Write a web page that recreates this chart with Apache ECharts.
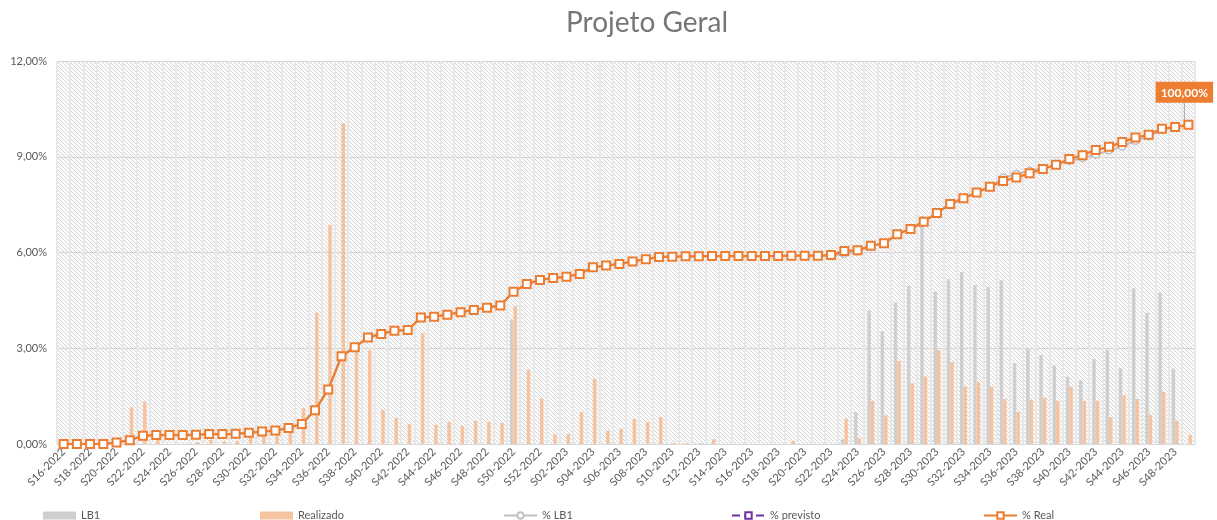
<!DOCTYPE html>
<html lang="pt">
<head>
  <meta charset="UTF-8">
  <title>Projeto Geral</title>
  <script src="https://cdn.jsdelivr.net/npm/echarts@6/dist/echarts.min.js"></script>
  <style>
    html, body { margin: 0; padding: 0; background: #fff; }
    #grafico { width: 1217px; height: 520px; }
  </style>
</head>
<body>
<div id="grafico"></div>
<script>
  // semanas (eixo x)
  var semanas = [
    'S16-2022','S17-2022','S18-2022','S19-2022','S20-2022','S21-2022','S22-2022','S23-2022','S24-2022','S25-2022',
    'S26-2022','S27-2022','S28-2022','S29-2022','S30-2022','S31-2022','S32-2022','S33-2022','S34-2022','S35-2022',
    'S36-2022','S37-2022','S38-2022','S39-2022','S40-2022','S41-2022','S42-2022','S43-2022','S44-2022','S45-2022',
    'S46-2022','S47-2022','S48-2022','S49-2022','S50-2022','S51-2022','S52-2022','S01-2023','S02-2023','S03-2023',
    'S04-2023','S05-2023','S06-2023','S07-2023','S08-2023','S09-2023','S10-2023','S11-2023','S12-2023','S13-2023',
    'S14-2023','S15-2023','S16-2023','S17-2023','S18-2023','S19-2023','S20-2023','S21-2023','S22-2023','S23-2023',
    'S24-2023','S25-2023','S26-2023','S27-2023','S28-2023','S29-2023','S30-2023','S31-2023','S32-2023','S33-2023',
    'S34-2023','S35-2023','S36-2023','S37-2023','S38-2023','S39-2023','S40-2023','S41-2023','S42-2023','S43-2023',
    'S44-2023','S45-2023','S46-2023','S47-2023','S48-2023','S49-2023'
  ];

  // % semanal (eixo principal)
  var lb1 = [
    0, 0, 0, 0, 0, 0, 0, 0, 0, 0,
    0, 0, 0, 0, 0, 0, 0, 0, 0, 0,
    0, 0, 0, 0, 0, 0, 0, 0, 0, 0,
    0, 0, 0, 0, 3.9, 0, 0, 0, 0, 0,
    0, 0, 0, 0, 0, 0, 0, 0, 0, 0,
    0, 0, 0, 0, 0, 0, 0, 0, 0, 0.14,
    1.0, 4.18, 3.53, 4.43, 4.95, 7.15, 4.77, 5.16, 5.4, 4.98,
    4.92, 5.13, 2.53, 2.97, 2.79, 2.46, 2.11, 2.0, 2.66, 2.95,
    2.39, 4.88, 4.11, 4.74, 2.36, 0
  ];
  var realizado = [
    0, 0, 0, 0, 0.2, 1.15, 1.32, 0.25, 0, 0,
    0.05, 0.13, 0.08, 0.1, 0.28, 0.4, 0.35, 0.6, 1.12, 4.12,
    6.86, 10.05, 3.0, 2.94, 1.07, 0.82, 0.63, 3.47, 0.6, 0.69,
    0.56, 0.72, 0.69, 0.66, 4.32, 2.32, 1.42, 0.31, 0.31, 1.0,
    2.04, 0.42, 0.48, 0.79, 0.69, 0.84, 0.03, 0.03, 0.03, 0.15,
    0, 0, 0, 0, 0, 0.1, 0, 0, 0, 0.8,
    0.18, 1.35, 0.9, 2.6, 1.9, 2.11, 2.94, 2.57, 1.8, 1.93,
    1.8, 1.41, 1.0, 1.38, 1.45, 1.35, 1.8, 1.35, 1.35, 0.84,
    1.53, 1.41, 0.91, 1.63, 0.73, 0.28
  ];

  // % acumulado (eixo secundário, oculto)
  var pctReal = [
    0, 0, 0, 0, 0.5, 1.2, 2.6, 2.8, 2.8, 2.8,
    2.9, 3.1, 3.1, 3.2, 3.5, 3.9, 4.2, 5.0, 6.3, 10.6,
    17.1, 27.5, 30.3, 33.4, 34.5, 35.5, 35.7, 39.6, 39.9, 40.5,
    41.3, 42.0, 42.7, 43.4, 47.7, 50.1, 51.4, 52.0, 52.4, 53.3,
    55.4, 55.9, 56.4, 57.2, 57.9, 58.6, 58.7, 58.8, 58.8, 58.9,
    58.9, 58.9, 58.9, 58.9, 58.9, 59.0, 59.0, 59.0, 59.2, 60.5,
    60.7, 62.1, 62.9, 65.7, 67.4, 69.6, 72.4, 75.2, 77.0, 78.8,
    80.6, 82.4, 83.5, 84.8, 86.2, 87.5, 89.3, 90.5, 92.1, 93.1,
    94.6, 96.0, 96.9, 98.8, 99.3, 100
  ];
  var pctLb1 = [
    0, 0, 0, 0, 0.5, 1.2, 2.6, 2.8, 2.8, 2.8,
    2.9, 3.1, 3.1, 3.2, 3.5, 3.9, 4.2, 5.0, 6.3, 10.6,
    17.1, 27.5, 30.3, 33.4, 34.5, 35.5, 35.7, 39.6, 39.9, 40.5,
    41.3, 42.0, 42.7, 43.4, 47.7, 50.1, 51.4, 52.0, 52.4, 53.3,
    55.4, 55.9, 56.4, 57.2, 57.9, 58.6, 58.7, 58.8, 58.8, 58.9,
    58.9, 58.9, 58.9, 58.9, 58.9, 59.0, 59.0, 59.0, 58.9, 59.6,
    60.3, 62.0, 62.9, 65.7, 67.4, 69.9, 72.4, 75.2, 77.0, 78.8,
    80.6, 83.4, 84.6, 85.6, 86.3, 87.5, 88.7, 89.6, 90.6, 92.0,
    93.2, 95.0, 96.4, 98.4, 99.2, 100
  ];
  var pctPrevisto = [];

  var yTicks = { min: 0, max: 12, step: 3 };

  // fundo hachurado da área de plotagem
  function hachura() {
    var s = 4;
    var c = document.createElement('canvas');
    c.width = s; c.height = s;
    var ctx = c.getContext('2d');
    ctx.fillStyle = '#fbfbfb';
    ctx.fillRect(0, 0, s, s);
    ctx.strokeStyle = '#d6d6d6';
    ctx.lineWidth = 1;
    ctx.beginPath();
    ctx.moveTo(0, 0); ctx.lineTo(s, s);
    ctx.moveTo(-1, s - 1); ctx.lineTo(1, s + 1);
    ctx.moveTo(s - 1, -1); ctx.lineTo(s + 1, 1);
    ctx.stroke();
    return c;
  }

  function fmtPct(v) {
    return v.toFixed(2).replace('.', ',') + '%';
  }

  var fonte = 'Lato, "Open Sans", sans-serif';
  var cinzaTexto = '#595959';

  var realData = pctReal.map(function (v, i) {
    if (i !== pctReal.length - 1) return v;
    return {
      value: v,
      label: {
        show: true,
        position: 'top',
        formatter: function (p) { return fmtPct(p.value); },
        backgroundColor: '#ED7D31',
        color: '#fff',
        fontWeight: 'bold',
        fontSize: 12,
        fontFamily: fonte,
        padding: [5, 5, 4, 5]
      }
    };
  });

  var legendaBase = {
    top: 505,
    itemGap: 0,
    textStyle: { color: cinzaTexto, fontSize: 11, fontFamily: fonte },
    itemWidth: 33,
    itemHeight: 8
  };
  function legenda(nome, esquerda, extra) {
    return Object.assign({}, legendaBase, { data: [nome], left: esquerda }, extra || {});
  }

  var chart = echarts.init(document.getElementById('grafico'));
  chart.setOption({
    animation: false,
    title: {
      text: 'Projeto Geral',
      left: 561,
      top: 4,
      textStyle: { color: '#767676', fontSize: 28, fontWeight: 'normal', fontFamily: fonte }
    },
    legend: [
      legenda('LB1', 38, { icon: 'rect' }),
      legenda('Realizado', 255, { icon: 'rect' }),
      legenda('% LB1', 498),
      legenda('% previsto', 726),
      legenda('% Real', 978)
    ],
    grid: {
      left: 57,
      right: 22,
      top: 61,
      bottom: 76,
      show: true,
      borderWidth: 0,
      backgroundColor: { image: hachura(), repeat: 'repeat' }
    },
    xAxis: {
      type: 'category',
      data: semanas,
      axisLine: { lineStyle: { color: '#d9d9d9' } },
      axisTick: { show: false },
      axisLabel: {
        interval: 1,
        rotate: 45,
        color: cinzaTexto,
        fontSize: 11,
        fontFamily: fonte,
        margin: 6
      },
      splitLine: { show: true, interval: 0, lineStyle: { color: '#e8e8e8', width: 2 } }
    },
    yAxis: [
      {
        type: 'value',
        min: yTicks.min,
        max: yTicks.max,
        interval: yTicks.step,
        axisLabel: {
          color: cinzaTexto,
          fontSize: 11,
          fontFamily: fonte,
          margin: 10,
          formatter: fmtPct
        },
        axisLine: { show: false },
        axisTick: { show: false },
        splitLine: { lineStyle: { color: '#d4d4d4' } }
      },
      {
        type: 'value',
        min: 0,
        max: 120,
        show: false,
        splitLine: { show: false }
      }
    ],
    series: [
      {
        name: 'LB1',
        type: 'bar',
        data: lb1,
        barWidth: 3.5,
        barGap: '0%',
        itemStyle: { color: '#cfcfcf' }
      },
      {
        name: 'Realizado',
        type: 'bar',
        data: realizado,
        barWidth: 3.5,
        barGap: '0%',
        itemStyle: { color: '#f6c3a0' }
      },
      {
        name: '% LB1',
        type: 'line',
        yAxisIndex: 1,
        data: pctLb1,
        symbol: 'circle',
        symbolSize: 7,
        lineStyle: { color: '#bfbfbf', width: 2 },
        itemStyle: { color: '#fff', borderColor: '#bfbfbf', borderWidth: 1.5 }
      },
      {
        name: '% previsto',
        type: 'line',
        yAxisIndex: 1,
        data: pctPrevisto,
        symbol: 'rect',
        symbolSize: 7,
        lineStyle: { color: '#7030A0', width: 2, type: 'dashed' },
        itemStyle: { color: '#fff', borderColor: '#7030A0', borderWidth: 1.5 }
      },
      {
        name: '% Real',
        type: 'line',
        yAxisIndex: 1,
        data: realData,
        symbol: 'rect',
        symbolSize: 8,
        lineStyle: { color: '#ED7D31', width: 2.25 },
        itemStyle: { color: '#fff', borderColor: '#ED7D31', borderWidth: 2 },
        labelLine: { show: true, lineStyle: { color: '#a6a6a6', width: 1 } },
        labelLayout: function (p) {
          return p.dataIndex === pctReal.length - 1 ? { dx: -4, dy: -12 } : {};
        },
        z: 5
      }
    ]
  });
</script>
</body>
</html>
